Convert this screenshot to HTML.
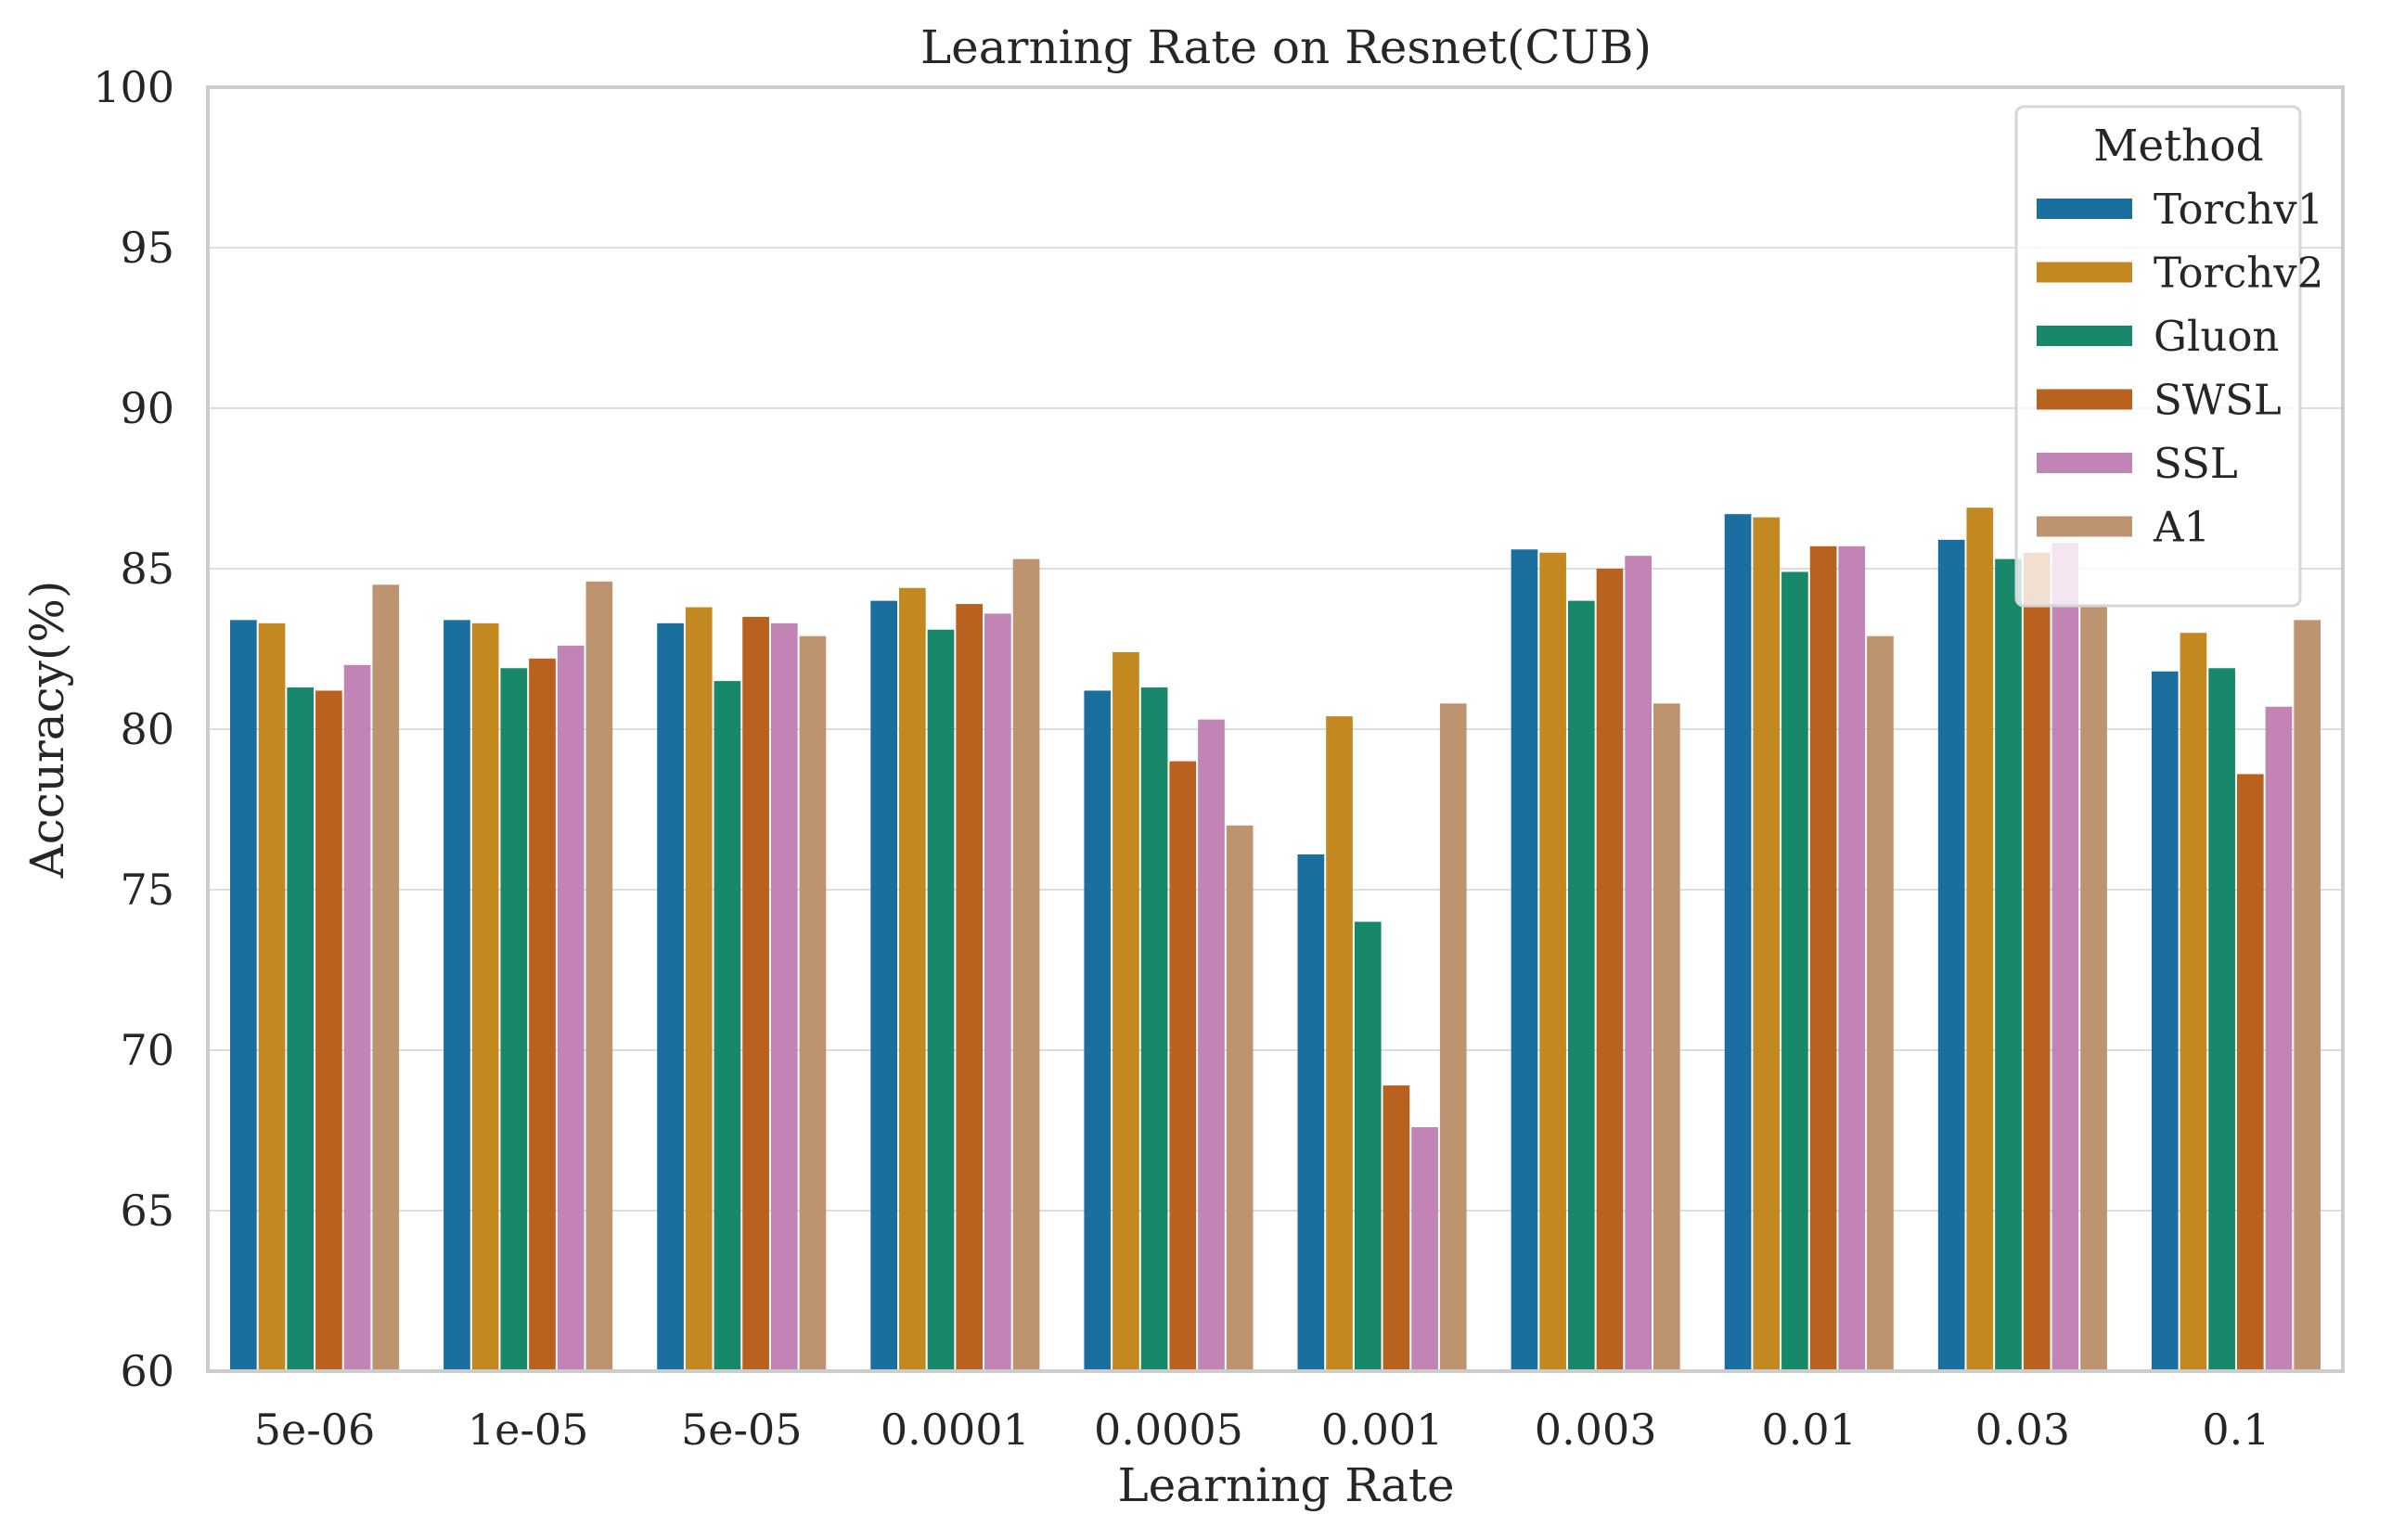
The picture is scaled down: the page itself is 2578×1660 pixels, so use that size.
<!DOCTYPE html>
<html><head><meta charset="utf-8"><style>
body{margin:0;background:#fff}
svg{display:block}
text{font-family:"DejaVu Serif","Liberation Serif",serif;fill:#262626}
</style></head><body>
<svg id="chart" width="2578" height="1660" viewBox="0 0 2578 1660" xmlns="http://www.w3.org/2000/svg">
<text x="1386" y="68" font-size="50" text-anchor="middle">Learning Rate on Resnet(CUB)</text>
<text x="1386" y="1618" font-size="50" text-anchor="middle">Learning Rate</text>
<text transform="translate(68,786) rotate(-90)" font-size="50" text-anchor="middle">Accuracy(%)</text>
<g id="grid"></g><g id="bars"></g><g id="ticks"></g>
<rect x="224" y="94" width="2301" height="1384" fill="none" stroke="#cccccc" stroke-width="4"/>
<g id="legend"></g>
</svg>
<script>
const categories=["5e-06","1e-05","5e-05","0.0001","0.0005","0.001","0.003","0.01","0.03","0.1"];
const methods=["Torchv1","Torchv2","Gluon","SWSL","SSL","A1"];
const torchv1=[83.4,83.4,83.3,84.0,81.2,76.1,85.6,86.7,85.9,81.8];
const torchv2=[83.3,83.3,83.8,84.4,82.4,80.4,85.5,86.6,86.9,83.0];
const gluon=[81.3,81.9,81.5,83.1,81.3,74.0,84.0,84.9,85.3,81.9];
const swsl=[81.2,82.2,83.5,83.9,79.0,68.9,85.0,85.7,85.5,78.6];
const ssl=[82.0,82.6,83.3,83.6,80.3,67.6,85.4,85.7,85.8,80.7];
const a1=[84.5,84.6,82.9,85.3,77.0,80.8,80.8,82.9,83.8,83.4];
const yTicks=[60,65,70,75,80,85,90,95,100];
const series=[torchv1,torchv2,gluon,swsl,ssl,a1];
const colors=["#1a6f9e","#c38820","#17896a","#b9611f","#c283b5","#bd9370"];
const NS="http://www.w3.org/2000/svg";
const L=224,R=2525,T=94,B=1478,ymin=60,ymax=100;
const y=v=>B-(v-ymin)/(ymax-ymin)*(B-T);
const gw=(R-L)/categories.length, bw=gw*0.8/methods.length;
const x=(i,j)=>L+gw*i+gw*0.1+bw*j;
function mk(tag,attrs,parent){const e=document.createElementNS(NS,tag);for(const k in attrs)e.setAttribute(k,attrs[k]);document.getElementById(parent).appendChild(e);return e;}
yTicks.forEach(t=>{
  if(t>ymin&&t<ymax){const g=mk('line',{x1:L,x2:R,y1:y(t),y2:y(t),stroke:'#dddddd','stroke-width':2},'grid');
  
  }
  const tx=mk('text',{x:188,y:y(t)+16,'font-size':46,'text-anchor':'end'},'ticks');tx.textContent=t;
  
  
});
categories.forEach((c,i)=>{
  const tx=mk('text',{x:L+gw*(i+0.5),y:1557,'font-size':46,'text-anchor':'middle'},'ticks');tx.textContent=c;
  
  
  series.forEach((s,j)=>{
    const r=mk('rect',{x:x(i,j)+1,y:y(s[i]),width:bw-2,height:B-y(s[i]),fill:colors[j]},'bars');
    
    
  });
});
const lb=mk('rect',{x:2173,y:115,width:306,height:538,rx:8,fill:'#fff','fill-opacity':0.8,stroke:'#d6d6d6','stroke-width':3},'legend');


const lt=mk('text',{x:2348,y:173,'font-size':47,'text-anchor':'middle'},'legend');lt.textContent="Method";


methods.forEach((m,j)=>{
  const cy=225+j*68.5;
  const p=mk('rect',{x:2195,y:cy-11,width:103,height:22,fill:colors[j]},'legend');
  
  
  const t=mk('text',{x:2321,y:cy+16,'font-size':45},'legend');t.textContent=m;
  
  
});
</script>
</body></html>
